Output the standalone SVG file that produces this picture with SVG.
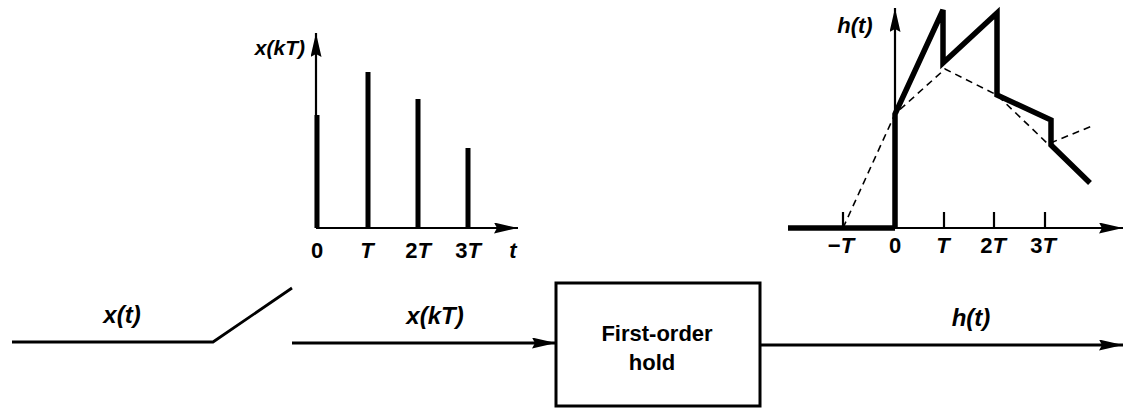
<svg xmlns="http://www.w3.org/2000/svg" width="1124" height="408" viewBox="0 0 1124 408">
  <style>
    .lbl { font-family: "Liberation Sans", Arial, sans-serif; font-weight: bold; fill: #000; }
    .it { font-style: italic; }
    .axis { stroke: #000; stroke-width: 2.2; fill: none; }
    .bar { stroke: #000; stroke-width: 5; fill: none; }
    .thick { stroke: #000; stroke-width: 5.5; fill: none; stroke-linejoin: miter; }
    .dash { stroke: #000; stroke-width: 1.6; fill: none; stroke-dasharray: 7 5; }
    .wire { stroke: #000; stroke-width: 2.8; fill: none; }
  </style>
  <defs>
    <marker id="arrow" viewBox="0 0 24 11" refX="24" refY="5.5" markerWidth="24" markerHeight="11" markerUnits="userSpaceOnUse" orient="auto">
      <path d="M0,0 L24,5.5 L0,11 L3,5.5 Z" fill="#000"/>
    </marker>
  </defs>

  <rect width="1124" height="408" fill="#fff"/>

  <!-- sampled sequence x(kT) -->
  <g id="plot-samples">
    <line class="axis" x1="316" y1="228" x2="316" y2="33" marker-end="url(#arrow)"/>
    <line class="axis" x1="316" y1="228" x2="518" y2="228" stroke-width="3" marker-end="url(#arrow)"/>
    <line class="bar" x1="317" y1="228" x2="317" y2="115"/>
    <line class="bar" x1="368" y1="228" x2="368" y2="72"/>
    <line class="bar" x1="418" y1="228" x2="418" y2="99"/>
    <line class="bar" x1="468" y1="228" x2="468" y2="148"/>
    <text class="lbl it" x="305" y="55" font-size="21" text-anchor="end">x(kT)</text>
    <g class="lbl" font-size="22" text-anchor="middle">
      <text x="317" y="258">0</text>
      <text x="367" y="258" class="it">T</text>
      <text x="418" y="258">2<tspan font-style="italic">T</tspan></text>
      <text x="468" y="258">3<tspan font-style="italic">T</tspan></text>
      <text x="513" y="258" class="it">t</text>
    </g>
  </g>

  <!-- first-order hold output h(t) -->
  <g id="plot-output">
    <line class="thick" x1="788" y1="228" x2="895" y2="228"/>
    <line class="axis" x1="895" y1="228" x2="1123" y2="228" marker-end="url(#arrow)"/>
    <line class="axis" x1="895" y1="228" x2="895" y2="8" marker-end="url(#arrow)"/>
    <g class="axis" stroke-width="1.5">
      <line x1="843" y1="212" x2="843" y2="228"/>
      <line x1="944" y1="212" x2="944" y2="228"/>
      <line x1="994" y1="212" x2="994" y2="228"/>
      <line x1="1045" y1="212" x2="1045" y2="228"/>
    </g>
    <polyline class="dash" points="843,228 895,114 945,69 997,95 1048,144 1092,126"/>
    <polyline class="thick" points="895,228 895,114 943,10 943,63 997,13 997,95 1051,120 1051,145 1090,183"/>
    <text class="lbl it" x="855" y="33" font-size="22" text-anchor="middle">h(t)</text>
    <g class="lbl" font-size="22" text-anchor="middle">
      <text x="841" y="253">−<tspan font-style="italic">T</tspan></text>
      <text x="895" y="253">0</text>
      <text x="943" y="253" class="it">T</text>
      <text x="993" y="253">2<tspan font-style="italic">T</tspan></text>
      <text x="1043" y="253">3<tspan font-style="italic">T</tspan></text>
    </g>
  </g>

  <!-- sampler switch -->
  <g id="sampler">
    <polyline class="wire" points="12,342 213,342 292,288"/>
  </g>

  <!-- hold block -->
  <g id="hold">
    <rect x="556" y="283" width="204" height="123" fill="#fff" stroke="#000" stroke-width="3"/>
    <text class="lbl" x="657" y="341" font-size="22" text-anchor="middle">First-order</text>
    <text class="lbl" x="652" y="370" font-size="22" text-anchor="middle">hold</text>
  </g>

  <!-- signal lines -->
  <g id="connectors">
    <line class="wire" x1="292" y1="343" x2="556" y2="343" marker-end="url(#arrow)"/>
    <line class="wire" x1="760" y1="345" x2="1123" y2="345" marker-end="url(#arrow)"/>
  </g>

  <g id="signal-labels" class="lbl it" font-size="24" text-anchor="middle">
    <text x="122" y="323">x(t)</text>
    <text x="435" y="324">x(kT)</text>
    <text x="971" y="326">h(t)</text>
  </g>
</svg>
